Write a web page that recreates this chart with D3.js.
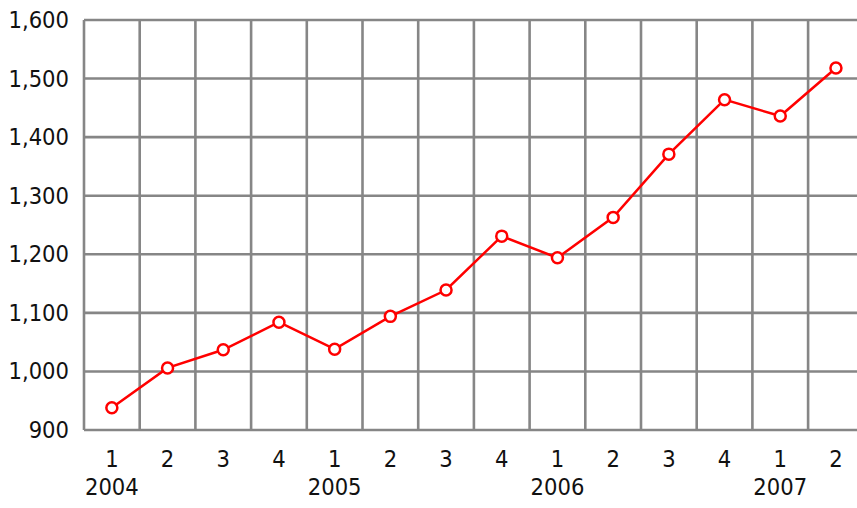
<html>
<head>
<meta charset="utf-8">
<style>
  body { margin: 0; background: white; }
  svg { display: block; }
  .tick text { font-family: "DejaVu Sans Condensed", "DejaVu Sans", sans-serif; font-stretch: condensed; font-size: 23.5px; fill: #111; }
  .lbl { font-family: "DejaVu Sans Condensed", "DejaVu Sans", sans-serif; font-stretch: condensed; font-size: 23.5px; fill: #111; }
</style>
</head>
<body>
<div id="chart"></div>
<script src="https://cdnjs.cloudflare.com/ajax/libs/d3/7.8.5/d3.min.js"></script>
<script>
// quarters 2004 Q1 .. 2007 Q2
var quarters = ["1","2","3","4","1","2","3","4","1","2","3","4","1","2"];
var years = ["2004","2005","2006","2007"];
var values = [938, 1006, 1037, 1084, 1038, 1094, 1139, 1231, 1194, 1263, 1371, 1464, 1436, 1518];
var yTicks = [900, 1000, 1100, 1200, 1300, 1400, 1500, 1600];

var fullWidth = 857, fullHeight = 508;
var margin = {top: 20, left: 84};
var bandW = 55.7;
var width = bandW * quarters.length;   // runs past the right edge, like the picture
var height = 410;

var svg = d3.select("#chart").append("svg")
  .attr("width", fullWidth).attr("height", fullHeight);
var g = svg.append("g").attr("transform", "translate(" + margin.left + "," + margin.top + ")");

var x = d3.scaleBand().domain(d3.range(quarters.length)).range([0, width]);
var y = d3.scaleLinear().domain([900, 1600]).range([height, 0]);

// horizontal grid
g.selectAll("line.h").data(yTicks).enter().append("line")
  .attr("x1", 0).attr("x2", width)
  .attr("y1", function(d) { return y(d); }).attr("y2", function(d) { return y(d); })
  .attr("stroke", "#868686").attr("stroke-width", 2.6);

// vertical grid
g.selectAll("line.v").data(d3.range(quarters.length + 1)).enter().append("line")
  .attr("x1", function(d) { return d * x.bandwidth(); }).attr("x2", function(d) { return d * x.bandwidth(); })
  .attr("y1", 0).attr("y2", height)
  .attr("stroke", "#868686").attr("stroke-width", 2.6);

// y axis labels
var yAxis = d3.axisLeft(y).tickValues(yTicks).tickSize(0).tickPadding(15).tickFormat(d3.format(","));
g.append("g").call(yAxis).call(function(a) { a.select(".domain").remove(); });

// quarter labels
var xAxis = d3.axisBottom(x).tickSize(0).tickPadding(20).tickFormat(function(i) { return quarters[i]; });
g.append("g").attr("transform", "translate(0," + height + ")").call(xAxis)
  .call(function(a) { a.select(".domain").remove(); });

// year labels under each first quarter
g.selectAll("text.yr").data(years).enter().append("text")
  .attr("class", "lbl")
  .attr("x", function(d, i) { return x(i * 4) + x.bandwidth() / 2; })
  .attr("y", height + 65)
  .attr("text-anchor", "middle")
  .text(function(d) { return d; });

var line = d3.line()
  .x(function(d, i) { return x(i) + x.bandwidth() / 2; })
  .y(function(d) { return y(d); });

g.append("path").datum(values)
  .attr("d", line).attr("fill", "none")
  .attr("stroke", "#ff0000").attr("stroke-width", 2.5);

g.selectAll("circle").data(values).enter().append("circle")
  .attr("cx", function(d, i) { return x(i) + x.bandwidth() / 2; })
  .attr("cy", function(d) { return y(d); })
  .attr("r", 5.5)
  .attr("fill", "white").attr("stroke", "#ff0000").attr("stroke-width", 2.5);
</script>
</body>
</html>
